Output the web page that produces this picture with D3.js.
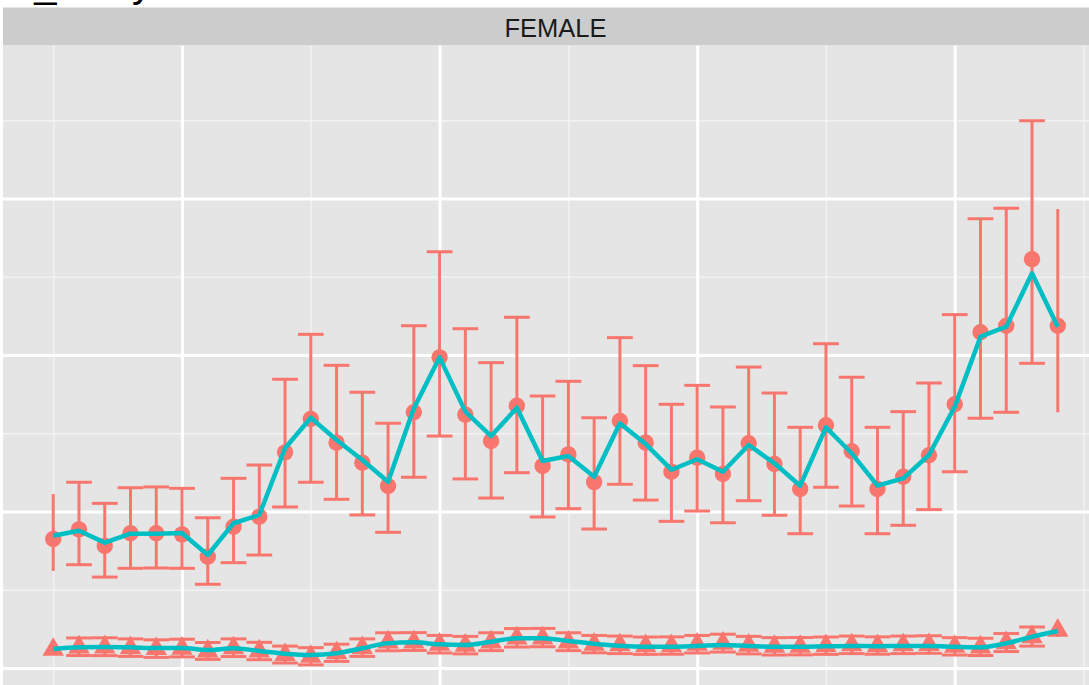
<!DOCTYPE html>
<html>
<head>
<meta charset="utf-8">
<script src="https://cdn.jsdelivr.net/npm/d3@7"></script>
<style>
    body { margin: 0; background: #ffffff; }
    svg { display: block; font-family: "Liberation Sans", Arial, sans-serif; }
</style>
</head>
<body>
<div id="chart"></div>
<script>
// x categories (years) and grid breaks
let years = [1975, 1976, 1977, 1978, 1979, 1980, 1981, 1982, 1983, 1984,
    1985, 1986, 1987, 1988, 1989, 1990, 1991, 1992, 1993, 1994,
    1995, 1996, 1997, 1998, 1999, 2000, 2001, 2002, 2003, 2004,
    2005, 2006, 2007, 2008, 2009, 2010, 2011, 2012, 2013, 2014];
let xMajor = [1980, 1990, 2000, 2010],
    xMinor = [1975, 1985, 1995, 2005, 2015],
    yMajor = [0, 10, 20, 30],
    yMinor = [-5, 5, 15, 25, 35];

// upper series (circles) with error bars, and its fitted line
let circleMean = [8.24, 8.86, 7.80, 8.61, 8.61, 8.54, 7.11, 9.03, 9.67, 13.78,
    15.91, 14.40, 13.12, 11.63, 16.34, 19.85, 16.19, 14.50, 16.76, 12.91,
    13.65, 11.88, 15.78, 14.40, 12.54, 13.44, 12.40, 14.36, 13.04, 11.44,
    15.51, 13.85, 11.44, 12.22, 13.59, 16.85, 21.45, 21.87, 26.12, 21.87];
let circleLo = [6.20, 6.60, 5.81, 6.37, 6.39, 6.37, 5.35, 6.73, 7.22, 10.29,
    11.87, 10.78, 9.78, 8.67, 12.19, 14.82, 12.08, 10.86, 12.48, 9.65,
    10.18, 8.88, 11.74, 10.73, 9.37, 10.03, 9.28, 10.69, 9.76, 8.58,
    11.55, 10.35, 8.58, 9.12, 10.12, 12.54, 15.96, 16.34, 19.47, 16.34];
let circleHi = [11.12, 11.87, 10.52, 11.52, 11.57, 11.48, 9.60, 12.12, 12.97, 18.45,
    21.32, 19.34, 17.62, 15.64, 21.87, 26.60, 21.68, 19.51, 22.41, 17.38,
    18.32, 15.99, 21.11, 19.32, 16.85, 18.06, 16.68, 19.23, 17.57, 15.38,
    20.72, 18.58, 15.38, 16.38, 18.21, 22.58, 28.71, 29.37, 34.97, 29.33];
let circleFit = [8.45, 8.77, 8.01, 8.58, 8.58, 8.63, 7.22, 9.25, 9.78, 14.04,
    15.99, 14.57, 13.29, 11.90, 16.59, 19.85, 16.38, 14.82, 16.63, 13.23,
    13.55, 12.22, 15.64, 14.31, 12.67, 13.34, 12.54, 14.25, 13.08, 11.65,
    15.38, 13.72, 11.65, 12.12, 13.61, 16.70, 21.17, 21.81, 25.22, 21.81];

// lower series (triangles) with error bars, and its fitted line
let triMean = [1.18, 1.33, 1.33, 1.28, 1.22, 1.25, 1.07, 1.27, 1.07, 0.84,
    0.73, 0.95, 1.28, 1.65, 1.65, 1.50, 1.44, 1.65, 1.90, 1.90,
    1.65, 1.50, 1.46, 1.41, 1.41, 1.50, 1.57, 1.44, 1.37, 1.37,
    1.41, 1.46, 1.41, 1.46, 1.48, 1.37, 1.33, 1.60, 1.97, 2.40];
let triLo = [0.95, 0.80, 0.79, 0.74, 0.68, 0.71, 0.55, 0.73, 0.53, 0.32,
    0.20, 0.42, 0.74, 1.10, 1.12, 0.96, 0.90, 1.11, 1.34, 1.36,
    1.11, 0.97, 0.92, 0.87, 0.88, 0.96, 1.02, 0.90, 0.83, 0.84,
    0.87, 0.92, 0.88, 0.92, 0.94, 0.83, 0.80, 1.05, 1.40, 2.00];
let triHi = [1.40, 1.92, 1.93, 1.86, 1.80, 1.84, 1.63, 1.86, 1.64, 1.40,
    1.30, 1.52, 1.86, 2.25, 2.26, 2.08, 2.02, 2.25, 2.52, 2.53,
    2.25, 2.08, 2.04, 1.98, 1.99, 2.08, 2.16, 2.02, 1.94, 1.95,
    1.98, 2.04, 1.99, 2.04, 2.06, 1.94, 1.90, 2.20, 2.62, 2.85];
let triFit = [1.21, 1.32, 1.34, 1.32, 1.28, 1.28, 1.15, 1.26, 1.09, 0.91,
    0.83, 0.94, 1.26, 1.58, 1.64, 1.51, 1.47, 1.68, 1.90, 1.90,
    1.73, 1.55, 1.42, 1.36, 1.36, 1.41, 1.47, 1.41, 1.36, 1.36,
    1.39, 1.41, 1.39, 1.41, 1.41, 1.36, 1.32, 1.58, 2.00, 2.36];

let stripLabel = "FEMALE",
    titleText = "id_study";

function drawChart() {
    let width = 1089,
        height = 685,
        panelLeft = 3,
        panelRight = 1108,
        panelTop = 45.5,
        panelBottom = 720,
        stripTop = 7.5,
        red = "#F8766D",
        cyan = "#00BFC4";

    let svg = d3.select("#chart")
        .append("svg")
        .attr("width", width)
        .attr("height", height);

    let x = d3.scaleLinear()
        .domain([1975 - 1.95, 2014 + 1.95])
        .range([panelLeft, panelRight]);

    let y = d3.scaleLinear()
        .domain([0, 30])
        .range([668, 198.5]);

    // title, mostly cut off by the top edge
    svg.append("text")
        .attr("x", 3)
        .attr("y", -3)
        .style("font-size", "40px")
        .style("fill", "#000")
        .text(titleText);

    // strip
    svg.append("rect")
        .attr("x", panelLeft)
        .attr("y", stripTop)
        .attr("width", panelRight - panelLeft)
        .attr("height", panelTop - stripTop)
        .style("fill", "#CCCCCC");

    svg.append("text")
        .attr("x", (panelLeft + panelRight) / 2)
        .attr("y", 37)
        .style("text-anchor", "middle")
        .style("font-size", "25.5px")
        .style("fill", "#1A1A1A")
        .text(stripLabel);

    // panel
    let panel = svg.append("g");

    panel.append("rect")
        .attr("x", panelLeft)
        .attr("y", panelTop)
        .attr("width", panelRight - panelLeft)
        .attr("height", panelBottom - panelTop)
        .style("fill", "#E5E5E5");

    let clip = svg.append("clipPath")
        .attr("id", "panelclip")
        .append("rect")
        .attr("x", panelLeft)
        .attr("y", panelTop)
        .attr("width", panelRight - panelLeft)
        .attr("height", panelBottom - panelTop);

    let grid = panel.append("g").attr("clip-path", "url(#panelclip)");

    // minor grid through axes
    grid.append("g")
        .attr("class", "gridminor")
        .attr("transform", "translate(0," + panelBottom + ")")
        .call(d3.axisBottom(x).tickValues(xMinor).tickSize(-(panelBottom - panelTop)).tickFormat(""));
    grid.append("g")
        .attr("class", "gridminor")
        .attr("transform", "translate(" + panelLeft + ",0)")
        .call(d3.axisLeft(y).tickValues(yMinor).tickSize(-(panelRight - panelLeft)).tickFormat(""));

    // major grid
    grid.append("g")
        .attr("class", "gridmajor")
        .attr("transform", "translate(0," + panelBottom + ")")
        .call(d3.axisBottom(x).tickValues(xMajor).tickSize(-(panelBottom - panelTop)).tickFormat(""));
    grid.append("g")
        .attr("class", "gridmajor")
        .attr("transform", "translate(" + panelLeft + ",0)")
        .call(d3.axisLeft(y).tickValues(yMajor).tickSize(-(panelRight - panelLeft)).tickFormat(""));

    grid.selectAll(".domain").remove();
    grid.selectAll(".gridminor .tick line")
        .style("stroke", "#F2F2F2")
        .style("stroke-width", 1.5);
    grid.selectAll(".gridmajor .tick line")
        .style("stroke", "#FFFFFF")
        .style("stroke-width", 3);

    let plot = panel.append("g").attr("clip-path", "url(#panelclip)");

    let circles = years.map(function (yr, i) {
        return { year: yr, mean: circleMean[i], lo: circleLo[i], hi: circleHi[i], fit: circleFit[i], cap: i > 0 && i < years.length - 1 };
    });
    let tris = years.map(function (yr, i) {
        return { year: yr, mean: triMean[i], lo: triLo[i], hi: triHi[i], fit: triFit[i], cap: i > 0 && i < years.length - 1 };
    });

    function errorbars(data) {
        let g = plot.append("g")
            .style("stroke", red)
            .style("stroke-width", 3)
            .style("fill", "none");
        g.selectAll(".ebv")
            .data(data)
            .enter()
            .append("line")
            .attr("x1", function (d) { return x(d.year); })
            .attr("x2", function (d) { return x(d.year); })
            .attr("y1", function (d) { return y(d.lo); })
            .attr("y2", function (d) { return y(d.hi); });
        ["lo", "hi"].forEach(function (k) {
            g.selectAll(".cap" + k)
                .data(data.filter(function (d) { return d.cap; }))
                .enter()
                .append("line")
                .attr("x1", function (d) { return x(d.year - 0.5); })
                .attr("x2", function (d) { return x(d.year + 0.5); })
                .attr("y1", function (d) { return y(d[k]); })
                .attr("y2", function (d) { return y(d[k]); });
        });
    }

    errorbars(circles);
    errorbars(tris);

    plot.selectAll(".pt")
        .data(circles)
        .enter()
        .append("circle")
        .attr("cx", function (d) { return x(d.year); })
        .attr("cy", function (d) { return y(d.mean); })
        .attr("r", 8.2)
        .style("fill", red);

    plot.selectAll(".tri")
        .data(tris)
        .enter()
        .append("path")
        .attr("d", d3.symbol().type(d3.symbolTriangle).size(200))
        .attr("transform", function (d) {
            return "translate(" + x(d.year) + "," + y(d.mean) + ")";
        })
        .style("fill", red);

    let fitLine = d3.line()
        .x(function (d) { return x(d.year); })
        .y(function (d) { return y(d.fit); });

    plot.append("path")
        .datum(circles)
        .attr("d", fitLine)
        .style("fill", "none")
        .style("stroke", cyan)
        .style("stroke-width", 4.5)
        .style("stroke-linejoin", "round");

    plot.append("path")
        .datum(tris)
        .attr("d", fitLine.curve(d3.curveMonotoneX))
        .style("fill", "none")
        .style("stroke", cyan)
        .style("stroke-width", 4.5)
        .style("stroke-linejoin", "round");
}

drawChart();
</script>
</body>
</html>
